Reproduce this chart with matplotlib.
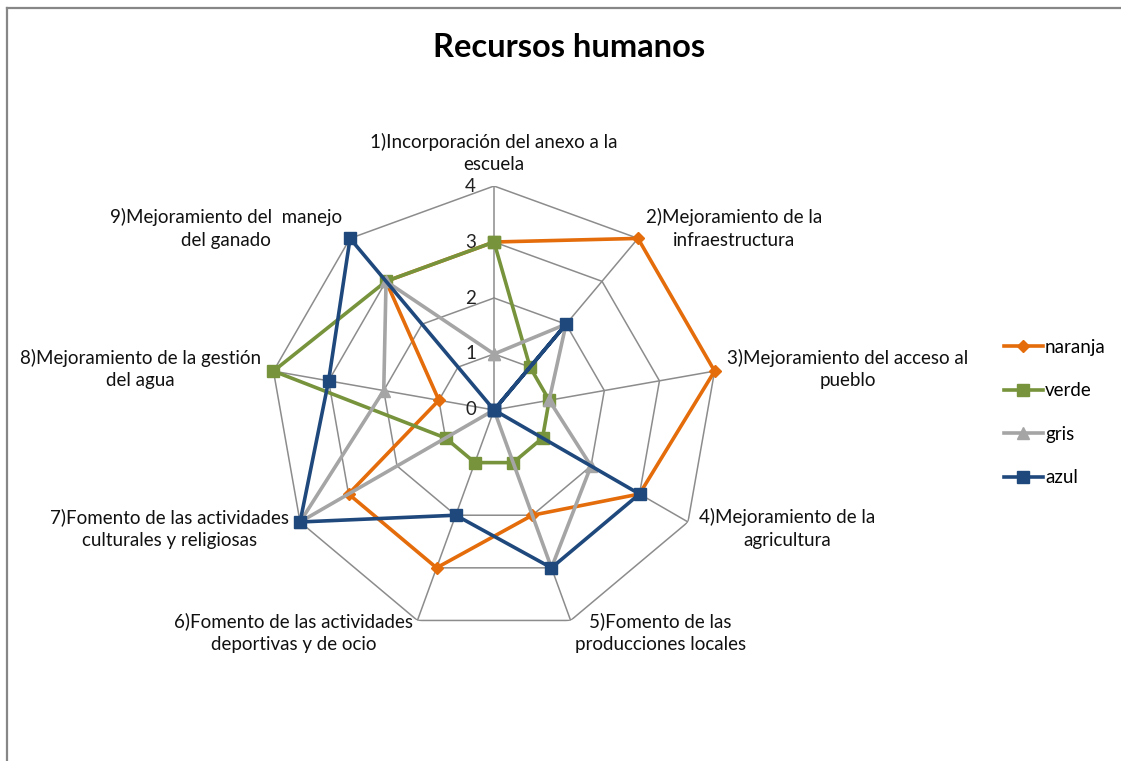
import matplotlib
matplotlib.use("Agg")
import matplotlib.pyplot as plt
import numpy as np
from matplotlib.lines import Line2D

plt.rcParams['font.family'] = ['Lato', 'DejaVu Sans']

categorias = ["1)Incorporación del anexo a la\nescuela",
              "2)Mejoramiento de la\ninfraestructura",
              "3)Mejoramiento del acceso al\npueblo",
              "4)Mejoramiento de la\nagricultura",
              "5)Fomento de las\nproducciones locales",
              "6)Fomento de las actividades\ndeportivas y de ocio",
              "7)Fomento de las actividades\nculturales y religiosas",
              "8)Mejoramiento de la gestión\ndel agua",
              "9)Mejoramiento del  manejo\ndel ganado"]

naranja = [3, 4, 4, 3, 2, 3, 3, 1, 3]
verde = [3, 1, 1, 1, 1, 1, 1, 4, 3]
gris = [1, 2, 1, 2, 3, 0, 4, 2, 3]
azul = [0, 2, 0, 3, 3, 2, 4, 3, 4]
niveles = [0, 1, 2, 3, 4]

series = [("naranja", naranja, "#E46C0A", "D", 6),
          ("verde", verde, "#77933C", "s", 9),
          ("gris", gris, "#A5A5A5", "^", 9),
          ("azul", azul, "#1F497D", "s", 9)]

N = len(categorias)
theta = np.linspace(0, 2 * np.pi, N, endpoint=False)
theta_c = np.append(theta, theta[0])

fig = plt.figure(figsize=(11.21, 7.61), dpi=100)

# marco del grafico
fig.add_artist(Line2D([7 / 1121, 7 / 1121], [0, 1 - 8 / 761], color="#878787", lw=1.6))
fig.add_artist(Line2D([7 / 1121, 1], [1 - 8 / 761, 1 - 8 / 761], color="#878787", lw=1.6))

ax = fig.add_axes([0.2409, 0.1669, 0.3996, 0.5887], projection="polar")
ax.set_theta_zero_location("N")
ax.set_theta_direction(-1)
ax.set_ylim(0, 4)
ax.grid(False)
ax.spines["polar"].set_visible(False)
ax.set_xticks([])
ax.set_yticks([])
ax.patch.set_alpha(0)

grid_col = "#8C8C8C"
for n in niveles[1:]:
    ax.plot(theta_c, [n] * (N + 1), color=grid_col, lw=1.1, zorder=1)
for t in theta:
    ax.plot([t, t], [0, 4], color=grid_col, lw=1.1, zorder=1)

for n in niveles:
    ax.annotate(str(n), xy=(0, n), xytext=(-13, 0), textcoords="offset points",
                ha="right", va="center", fontsize=13.5, color="#222222")

handles = []
for nombre, vals, col, mk, ms in series:
    v = vals + vals[:1]
    h, = ax.plot(theta_c, v, color=col, lw=2.6, marker=mk, markersize=ms,
                 markeredgecolor=col, label=nombre, zorder=3, clip_on=False)
    handles.append(h)

for i, lab in enumerate(categorias):
    ang = np.degrees(theta[i])
    if i == 0:
        ha, va = "center", "bottom"
    elif ang < 180:
        ha, va = "left", "center"
    else:
        ha, va = "right", "center"
    ax.text(theta[i], 4.23, lab, ha=ha, va=va, multialignment="center",
            fontsize=13.5, color="#111111", linespacing=1.38)

fig.text(0.5076, 0.938, "Recursos humanos", ha="center", va="center",
         fontsize=23.5, fontweight="bold", color="black")

fig.legend(handles=handles, loc="upper left", bbox_to_anchor=(996 / 1121, 1 - 331 / 761),
           frameon=False, fontsize=13.5, handlelength=2.1, labelspacing=1.42,
           handletextpad=0.12, borderaxespad=0)

fig.savefig("out.png", dpi=100)
